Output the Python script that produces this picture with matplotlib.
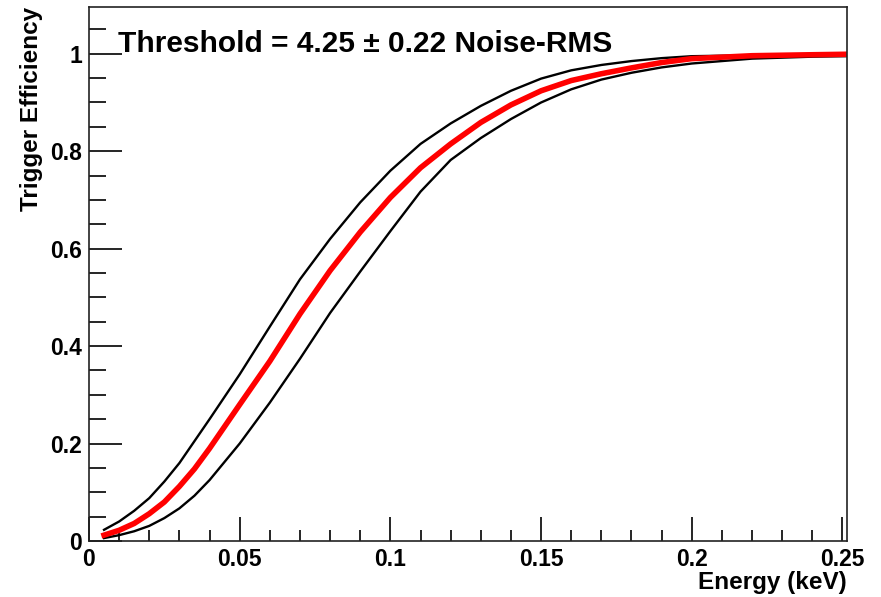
import numpy as np
import matplotlib
matplotlib.use("Agg")
import matplotlib.pyplot as plt
from matplotlib.ticker import MultipleLocator

plt.rcParams['font.family'] = ['Liberation Sans', 'DejaVu Sans']
plt.rcParams['font.weight'] = 'bold'

# energy grid (keV) and efficiency curves
energy = [0.005, 0.01, 0.015, 0.02, 0.025, 0.03, 0.035, 0.04, 0.05, 0.06,
          0.07, 0.08, 0.09, 0.10, 0.11, 0.12, 0.13, 0.14, 0.15, 0.16, 0.17,
          0.18, 0.19, 0.20, 0.22, 0.24, 0.2515]
eff_mid = [0.012, 0.022, 0.036, 0.056, 0.080, 0.112, 0.148, 0.190, 0.280,
           0.369, 0.466, 0.555, 0.634, 0.705, 0.766, 0.815, 0.859, 0.895,
           0.924, 0.945, 0.959, 0.971, 0.982, 0.990, 0.996, 0.998, 0.999]
eff_high = [0.023, 0.040, 0.062, 0.088, 0.122, 0.160, 0.205, 0.250, 0.342,
            0.440, 0.537, 0.620, 0.695, 0.760, 0.815, 0.857, 0.893, 0.924,
            0.949, 0.966, 0.977, 0.985, 0.991, 0.995, 0.997, 0.998, 0.999]
eff_low = [0.006, 0.012, 0.020, 0.031, 0.047, 0.067, 0.093, 0.125, 0.200,
           0.284, 0.374, 0.468, 0.553, 0.636, 0.717, 0.782, 0.827, 0.866,
           0.900, 0.927, 0.947, 0.961, 0.972, 0.980, 0.990, 0.994, 0.995]

xticks = [0, 0.05, 0.1, 0.15, 0.2, 0.25]
xtick_labels = ["0", "0.05", "0.1", "0.15", "0.2", "0.25"]
yticks = [0, 0.2, 0.4, 0.6, 0.8, 1.0]
ytick_labels = ["0", "0.2", "0.4", "0.6", "0.8", "1"]

fig = plt.figure(figsize=(8.81, 5.97), dpi=100)
ax = fig.add_axes([0.101, 0.0938, 0.8604, 0.8945])

ax.plot(energy, eff_high, color='black', lw=1.7, solid_joinstyle='round')
ax.plot(energy, eff_low, color='black', lw=1.7, solid_joinstyle='round')
ax.plot(energy, eff_mid, color='#ff0000', lw=4, solid_joinstyle='round')

ax.set_xlim(0, 0.2515)
ax.set_ylim(0, 1.096)

ax.set_xticks(xticks)
ax.set_xticklabels(xtick_labels)
ax.set_yticks(yticks)
ax.set_yticklabels(ytick_labels)
ax.xaxis.set_minor_locator(MultipleLocator(0.01))
ax.yaxis.set_minor_locator(MultipleLocator(0.05))

ax.tick_params(axis='x', which='major', direction='in', length=17, width=1.2,
               labelsize=16.5, pad=5, top=False)
ax.tick_params(axis='x', which='minor', direction='in', length=8, width=1.2, top=False)
ax.tick_params(axis='y', which='major', direction='in', length=24, width=1.2,
               labelsize=16.5, pad=5, right=False)
ax.tick_params(axis='y', which='minor', direction='in', length=12, width=1.2, right=False)

for sp in ax.spines.values():
    sp.set_linewidth(1.2)
    sp.set_color('#222222')

ax.set_xlabel("Energy (keV)", fontsize=17.5, fontweight='bold')
ax.xaxis.set_label_coords(1.0, -0.056)
ax.xaxis.label.set_horizontalalignment('right')
ax.xaxis.label.set_verticalalignment('top')
ax.set_ylabel("Trigger Efficiency", fontsize=17.5, fontweight='bold')
ax.yaxis.set_label_coords(-0.076, 1.0)
ax.yaxis.label.set_verticalalignment('center')
ax.yaxis.label.set_horizontalalignment('right')

ax.text(0.038, 0.93, "Threshold = 4.25 \u00b1 0.22 Noise-RMS",
        transform=ax.transAxes, fontsize=21.5, fontweight='bold',
        ha='left', va='center')

fig.savefig("out.png", dpi=100)
